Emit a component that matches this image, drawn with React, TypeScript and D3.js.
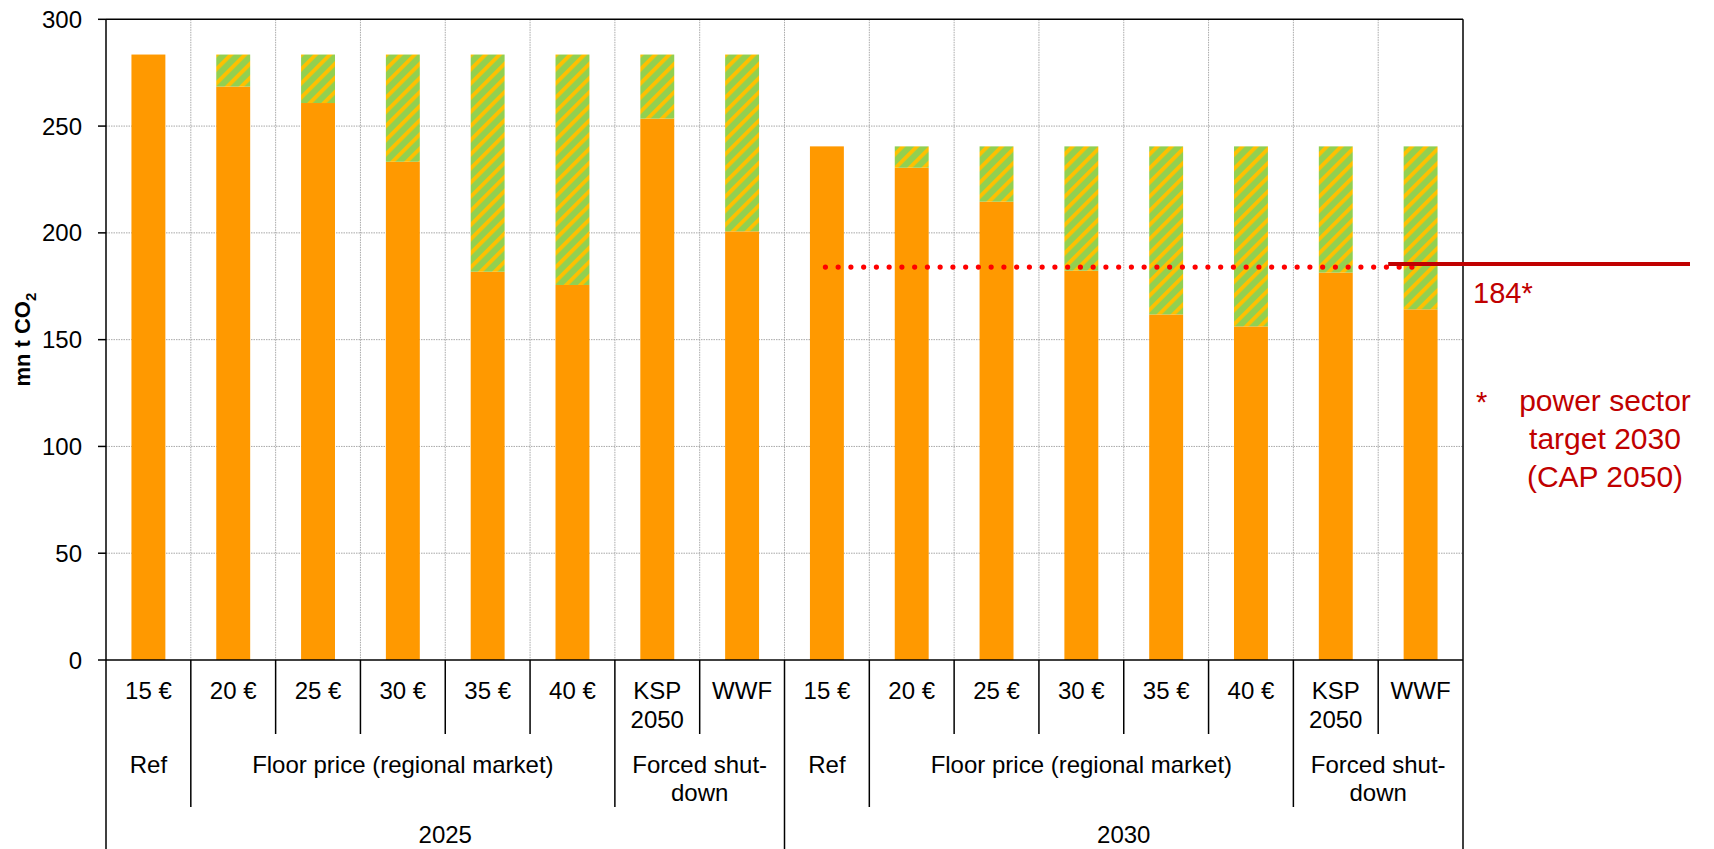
import React from "react";
import * as d3 from "d3";

const categories = ["15 €", "20 €", "25 €", "30 €", "35 €", "40 €", "KSP\n2050", "WWF", "15 €", "20 €", "25 €", "30 €", "35 €", "40 €", "KSP\n2050", "WWF"];
const groups = [
  { label: "Ref", start: 0, end: 1 },
  { label: "Floor price (regional market)", start: 1, end: 6 },
  { label: "Forced shut-\ndown", start: 6, end: 8 },
  { label: "Ref", start: 8, end: 9 },
  { label: "Floor price (regional market)", start: 9, end: 14 },
  { label: "Forced shut-\ndown", start: 14, end: 16 },
];
const years = [
  { label: "2025", start: 0, end: 8 },
  { label: "2030", start: 8, end: 16 },
];
const emissions = [283.5, 268.5, 260.8, 233.3, 181.8, 175.6, 253.5, 200.7, 240.5, 230.5, 214.6, 182.3, 161.8, 156.2, 181.4, 164.2];
const reduction = [0, 15.0, 22.7, 50.2, 101.7, 107.9, 30.0, 82.8, 0, 10.0, 25.9, 58.2, 78.7, 84.3, 59.1, 76.3];
const yTicks = [0, 50, 100, 150, 200, 250, 300];
const target2030 = 184;

const W = 1714, H = 849;
const L = 106, R = 1463, T = 19.3, B = 660;
const FONT = "'Liberation Sans', Arial, sans-serif";

export default function App() {
  const x = d3.scaleBand<number>().domain(d3.range(categories.length)).range([L, R]).padding(0);
  const y = d3.scaleLinear().domain([0, 300]).range([B, T]);
  const bw = x.bandwidth() * 0.4;
  const table = categories.map((c, i) => ({ i, emissions: emissions[i], reduction: reduction[i] }));
  const stacked = d3.stack<any>().keys(["emissions", "reduction"])(table);

  const boundaries: { x: number; tier: number }[] = [];
  for (let i = 0; i <= categories.length; i++) {
    let tier = 1;
    if (groups.some((g) => g.start === i || g.end === i)) tier = 2;
    if (years.some((g) => g.start === i || g.end === i)) tier = 3;
    const bx = i === categories.length ? R : (x(i) as number);
    boundaries.push({ x: bx, tier });
  }
  const tierEnd = [0, 734, 807, H];

  const cx = (i: number) => (x(i) as number) + x.bandwidth() / 2;
  const dotY = y(target2030);

  return (
    <svg width={W} height={H} style={{ position: "absolute", left: 0, top: 0, background: "#fff" }} fontFamily={FONT}>
      <defs>
        <pattern id="hatch" patternUnits="userSpaceOnUse" width={10} height={10} patternTransform="rotate(45)">
          <rect width={10} height={10} fill="#92d050" />
          <rect width={3.8} height={10} fill="#ffc000" />
        </pattern>
      </defs>
      {yTicks.filter((t) => t > 0 && t < 300).map((t) => (
        <line key={"h" + t} x1={L} x2={R} y1={y(t)} y2={y(t)} stroke="#a8a8a8" strokeWidth={1} strokeDasharray="1.5,1" />
      ))}
      {boundaries.slice(1, -1).map((b, i) => (
        <line key={"v" + i} x1={b.x} x2={b.x} y1={T} y2={B} stroke="#a8a8a8" strokeWidth={1} strokeDasharray="1.5,1" />
      ))}
      {stacked.map((s) => (
        <g key={s.key}>
          {s.map((d, i) =>
            d[1] - d[0] > 0 ? (
              <rect key={i} x={cx(i) - bw / 2} width={bw} y={y(d[1])} height={y(d[0]) - y(d[1])}
                fill={s.key === "emissions" ? "#ff9900" : "url(#hatch)"} />
            ) : null
          )}
        </g>
      ))}
      <line x1={L} x2={R} y1={T} y2={T} stroke="#000" strokeWidth={1.5} />
      <line x1={R} x2={R} y1={T} y2={B} stroke="#000" strokeWidth={1.5} />
      <line x1={L} x2={L} y1={T} y2={B} stroke="#000" strokeWidth={1.5} />
      <line x1={L} x2={R} y1={B} y2={B} stroke="#000" strokeWidth={1.5} />
      {yTicks.map((t) => (
        <g key={"yt" + t}>
          <line x1={L - 8} x2={L} y1={y(t)} y2={y(t)} stroke="#000" strokeWidth={1.5} />
          <text x={L - 24} y={y(t) + 8.5} textAnchor="end" fontSize={24} fill="#000">{t}</text>
        </g>
      ))}
      <text transform={`translate(${30},${(T + B) / 2}) rotate(-90)`} textAnchor="middle" fontSize={22} fontWeight="bold" fill="#000">
        mn t CO<tspan fontSize={15} dy={6}>2</tspan>
      </text>
      {boundaries.map((b, i) => (
        <line key={"d" + i} x1={b.x} x2={b.x} y1={B} y2={tierEnd[b.tier]} stroke="#000" strokeWidth={1.5} />
      ))}
      {categories.map((c, i) => (
        <text key={"c" + i} x={cx(i)} y={699} textAnchor="middle" fontSize={24} fill="#000">
          {c.split("\n").map((ln, k) => (
            <tspan key={k} x={cx(i)} dy={k === 0 ? 0 : 29}>{ln}</tspan>
          ))}
        </text>
      ))}
      {groups.map((g, i) => {
        const gx = ((x(g.start) as number) + (g.end === categories.length ? R : (x(g.end) as number))) / 2;
        return (
          <text key={"g" + i} x={gx} y={773} textAnchor="middle" fontSize={24} fill="#000">
            {g.label.split("\n").map((ln, k) => (
              <tspan key={k} x={gx} dy={k === 0 ? 0 : 28}>{ln}</tspan>
            ))}
          </text>
        );
      })}
      {years.map((g, i) => {
        const gx = ((x(g.start) as number) + (g.end === categories.length ? R : (x(g.end) as number))) / 2;
        return (
          <text key={"yr" + i} x={gx} y={843} textAnchor="middle" fontSize={24} fill="#000">{g.label}</text>
        );
      })}
      <line x1={cx(8) - 1.5} x2={cx(15) - 4} y1={dotY} y2={dotY} stroke="#ff0000" strokeWidth={5.2} strokeLinecap="round" strokeDasharray="0,12.75" />
      <line x1={(x(15) as number) + 10} x2={1690} y1={dotY - 3} y2={dotY - 3} stroke="#c00000" strokeWidth={4} />
      <text x={R + 10} y={dotY + 36} fontSize={29} fill="#c00000">184*</text>
      <text x={R + 13} y={412} fontSize={29} fill="#c00000">*</text>
      {["power sector", "target 2030", "(CAP 2050)"].map((ln, k) => (
        <text key={"n" + k} x={1605} y={410.5 + k * 38.3} textAnchor="middle" fontSize={30} fill="#c00000">{ln}</text>
      ))}
    </svg>
  );
}
